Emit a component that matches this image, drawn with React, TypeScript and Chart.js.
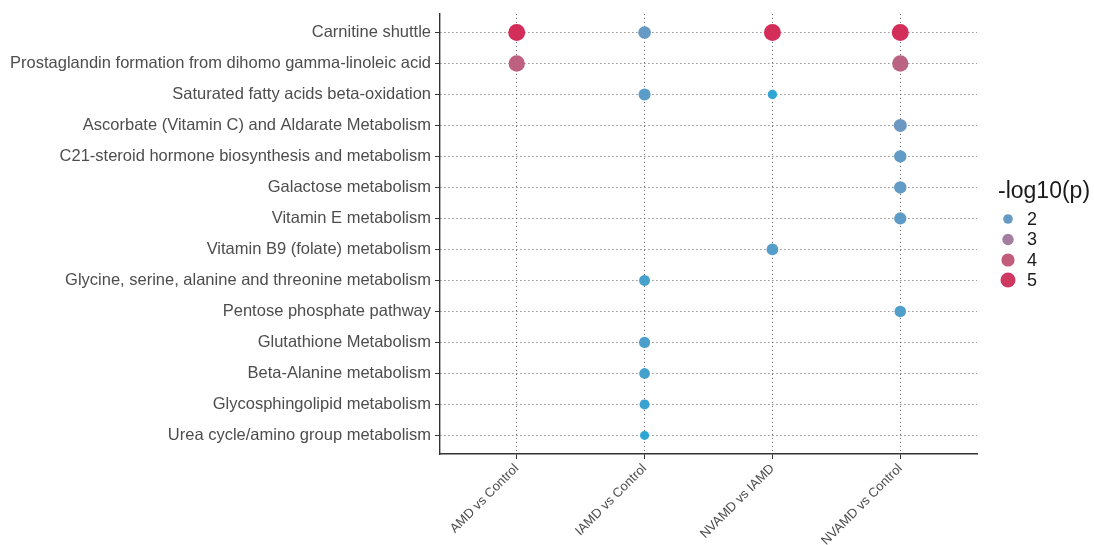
import React, { useEffect, useRef } from "react";
import { Chart, registerables } from "chart.js";

Chart.register(...registerables);

const comparisons = ["AMD vs Control", "IAMD vs Control", "NVAMD vs IAMD", "NVAMD vs Control"];

const pathways = [
  "Carnitine shuttle",
  "Prostaglandin formation from dihomo gamma-linoleic acid",
  "Saturated fatty acids beta-oxidation",
  "Ascorbate (Vitamin C) and Aldarate Metabolism",
  "C21-steroid hormone biosynthesis and metabolism",
  "Galactose metabolism",
  "Vitamin E metabolism",
  "Vitamin B9 (folate) metabolism",
  "Glycine, serine, alanine and threonine metabolism",
  "Pentose phosphate pathway",
  "Glutathione Metabolism",
  "Beta-Alanine metabolism",
  "Glycosphingolipid metabolism",
  "Urea cycle/amino group metabolism",
];

// -log10(p) values per comparison, aligned with pathways (null = not significant)
const amdVsControl = [5.3, 3.9, null, null, null, null, null, null, null, null, null, null, null, null];
const iamdVsControl = [2.0, null, 1.85, null, null, null, null, null, 1.65, null, 1.7, 1.6, 1.5, 1.35];
const nvamdVsIamd = [5.3, null, 1.4, null, null, null, null, 1.8, null, null, null, null, null, null];
const nvamdVsControl = [5.3, 3.8, null, 2.1, 1.95, 1.95, 1.9, null, null, 1.75, null, null, null, null];

const seriesValues = [amdVsControl, iamdVsControl, nvamdVsIamd, nvamdVsControl];

const legendTitle = "-log10(p)";
const legendValues = [2, 3, 4, 5];

const colorStops: [number, number[]][] = [
  [1.3, [40, 167, 213]],
  [2.0, [102, 154, 196]],
  [3.0, [164, 125, 160]],
  [4.0, [193, 93, 123]],
  [5.4, [212, 42, 86]],
];

function colorFor(v: number): string {
  if (v <= colorStops[0][0]) return `rgb(${colorStops[0][1].join(",")})`;
  for (let i = 1; i < colorStops.length; i++) {
    const [v1, c1] = colorStops[i];
    const [v0, c0] = colorStops[i - 1];
    if (v <= v1) {
      const t = (v - v0) / (v1 - v0);
      const c = c0.map((a, k) => Math.round(a + (c1[k] - a) * t));
      return `rgb(${c.join(",")})`;
    }
  }
  return `rgb(${colorStops[colorStops.length - 1][1].join(",")})`;
}

function radiusFor(v: number): number {
  return 8.6 - 5.6 * Math.exp(-(v - 1) * 0.9);
}

function legendRadiusFor(v: number): number {
  return 3 + 0.9 * v;
}

const FONT = "'Liberation Sans', Arial, Helvetica, sans-serif";

const legendPlugin = {
  id: "sizeColorLegend",
  afterDraw(chart: any) {
    const ctx = chart.ctx as CanvasRenderingContext2D;
    ctx.save();
    ctx.fillStyle = "#1a1a1a";
    ctx.font = `23px ${FONT}`;
    ctx.textAlign = "left";
    ctx.textBaseline = "middle";
    ctx.fillText(legendTitle, 998, 192);
    const ys = [219, 239.5, 260, 280];
    legendValues.forEach((v, i) => {
      ctx.beginPath();
      ctx.arc(1008, ys[i], legendRadiusFor(v), 0, Math.PI * 2);
      ctx.fillStyle = colorFor(v);
      ctx.fill();
      ctx.fillStyle = "#1a1a1a";
      ctx.font = `18px ${FONT}`;
      ctx.fillText(String(v), 1027, ys[i] + 1);
    });
    ctx.restore();
  },
};

export default function App() {
  const ref = useRef<HTMLCanvasElement>(null);

  useEffect(() => {
    const datasets = seriesValues.map((vals, ci) => ({
      label: comparisons[ci],
      data: vals
        .map((v, pi) => (v == null ? null : { x: ci, y: pi, r: radiusFor(v), v }))
        .filter((d) => d !== null) as any[],
      backgroundColor: (c: any) => (c.raw ? colorFor(c.raw.v) : "#000"),
      borderWidth: 0,
    }));

    const chart = new Chart(ref.current!, {
      type: "bubble",
      data: { datasets },
      options: {
        animation: false,
        responsive: false,
        devicePixelRatio: 1,
        layout: { padding: { top: 12, right: 117, left: 0, bottom: 0 } },
        plugins: { legend: { display: false }, tooltip: { enabled: false } },
        scales: {
          x: {
            type: "linear",
            min: -0.6,
            max: comparisons.length - 1 + 0.6,
            afterBuildTicks: (scale: any) => {
              scale.ticks = comparisons.map((_, i) => ({ value: i }));
            },
            afterFit: (scale: any) => {
              scale.height = 91;
            },
            ticks: {
              autoSkip: false,
              minRotation: 45,
              maxRotation: 45,
              padding: 2,
              color: "#4d4d4d",
              font: { family: FONT, size: 13 },
              callback: (v: any) => comparisons[Math.round(v)] ?? "",
            },
            grid: {
              color: "#5a5a5a",
              lineWidth: 1,
              tickLength: 5,
              tickColor: "#333333",
              tickWidth: 1,
            },
            border: { display: true, color: "#333333", width: 1.4, dash: [1, 3] },
          },
          y: {
            type: "linear",
            reverse: true,
            min: -0.6,
            max: pathways.length - 1 + 0.6,
            afterBuildTicks: (scale: any) => {
              scale.ticks = pathways.map((_, i) => ({ value: i }));
            },
            afterFit: (scale: any) => {
              scale.width = 440;
            },
            ticks: {
              autoSkip: false,
              padding: 4,
              color: "#4d4d4d",
              font: { family: FONT, size: 16.5 },
              callback: (v: any) => pathways[Math.round(v)] ?? "",
            },
            grid: {
              color: "#5a5a5a",
              lineWidth: 1,
              tickLength: 5,
              tickColor: "#333333",
              tickWidth: 1,
            },
            border: { display: true, color: "#333333", width: 1.4, dash: [1, 3] },
          },
        },
      },
      plugins: [legendPlugin],
    });
    return () => chart.destroy();
  }, []);

  return (
    <div style={{ position: "absolute", left: 0, top: 0, width: 1094, height: 545, background: "#fff" }}>
      <canvas ref={ref} width={1094} height={545} style={{ display: "block", width: 1094, height: 545 }} />
    </div>
  );
}
